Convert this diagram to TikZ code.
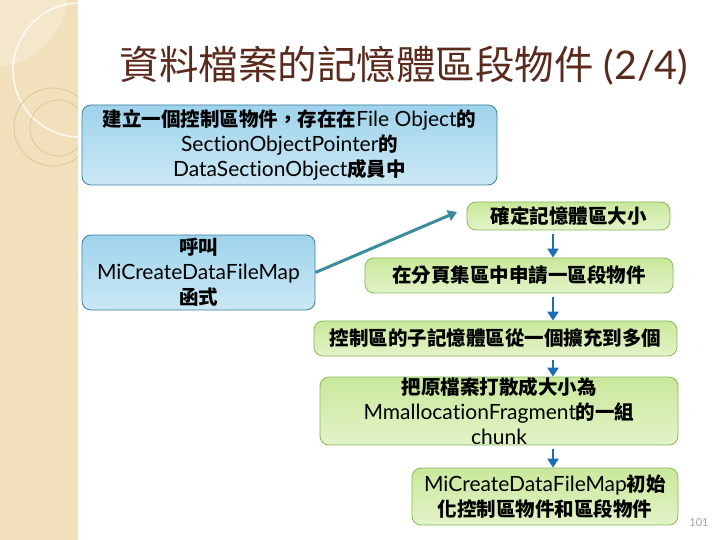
\documentclass[tikz,border=0pt]{standalone}
\usepackage{fontspec}
\setmainfont{Lato}[Ligatures={NoCommon}]
\newfontfamily\cjk{Noto Sans CJK TC}
\usetikzlibrary{arrows.meta,shadings}
\definecolor{strip}{HTML}{F2E0BC}
\definecolor{stripline}{HTML}{DCC69A}
\definecolor{titlec}{HTML}{5A2A1C}
\definecolor{blueborder}{HTML}{3F7F9E}
\definecolor{bluetop}{HTML}{9FD3EC}
\definecolor{bluebot}{HTML}{CBE8F5}
\definecolor{greenborder}{HTML}{8AB85A}
\definecolor{greentop}{HTML}{C9E89B}
\definecolor{greenbot}{HTML}{E3F3C8}
\definecolor{arrowblue}{HTML}{1C6DB5}
\definecolor{teal}{HTML}{3A8C9E}
\newcommand\zb[1]{{\cjk\bfseries\fontsize{19.5}{25}\selectfont #1}}
\newcommand\zr[1]{{\cjk #1}}
\tikzset{
  boxbase/.style={rounded corners=9pt, align=center, inner sep=0pt,
    font=\fontsize{21}{25}\selectfont, text=black, line width=0.8pt},
  bluebox/.style={boxbase, draw=blueborder, top color=bluetop, bottom color=bluebot},
  greenbox/.style={boxbase, draw=greenborder, top color=greentop, bottom color=greenbot},
  downarrow/.style={draw=arrowblue, line width=2.6pt, shorten <=4pt, -{Triangle[width=11pt,length=9pt]}},
  tealarrow/.style={draw=teal, line width=3pt, -{Triangle[width=11pt,length=9pt]}}
}
\begin{document}
\begin{tikzpicture}[x=1pt,y=-1pt]
\useasboundingbox (0,0) rectangle (720,540);
\fill[white] (0,0) rectangle (720,540);
% left strip
\fill[strip] (0,0) rectangle (78,540);
\begin{scope}
\clip (0,0) rectangle (78,540);
\fill[white,opacity=0.25] (-10,-10) circle (78);
\draw[white,opacity=0.8,line width=1.6pt] (80,70) circle (67);
\draw[stripline,line width=0.8pt] (53,127) circle (39);
\draw[stripline,line width=0.8pt] (58,128) circle (28);
\end{scope}
% title
\node[anchor=center, text=titlec, font=\fontsize{39.5}{42}\selectfont] (title) at (404,66)
  {\zr{資料檔案的記憶體區段物件} (2/4)};
% blue boxes
\node[bluebox, minimum width=415, minimum height=80] (b1) at (289.5,145)
  {\zb{建立一個控制區物件，存在在}File Object\zb{的}\\SectionObjectPointer\zb{的}\\DataSectionObject\zb{成員中}};
\node[bluebox, minimum width=233, minimum height=75] (b2) at (198.5,272.5)
  {\zb{呼叫}\\MiCreateDataFileMap\\\zb{函式}};
% green boxes
\node[greenbox, minimum width=203, minimum height=28] (g1) at (568.5,216) {\zb{確定記憶體區大小}};
\node[greenbox, minimum width=308, minimum height=35] (g2) at (519,275.5) {\zb{在分頁集區中申請一區段物件}};
\node[greenbox, minimum width=363, minimum height=35] (g3) at (495.5,338.5) {\zb{控制區的子記憶體區從一個擴充到多個}};
\node[greenbox, minimum width=358, minimum height=68] (g4) at (499,411)
  {\zb{把原檔案打散成大小為}\\MmallocationFragment\zb{的一組}\\chunk};
\node[greenbox, minimum width=266, minimum height=57] (g5) at (545,496.5)
  {MiCreateDataFileMap\zb{初始}\\\zb{化控制區物件和區段物件}};
% page number
\node[text=gray!70, font=\fontsize{11}{12}\selectfont] (pg) at (699,523) {101};
% connectors
\coordinate (ax) at (553,0);
\coordinate (tip) at (457,212);
\draw[tealarrow] (b2.east) -- (tip);
\draw[downarrow] (g1.south -| ax) -- (g2.north -| ax);
\draw[downarrow] (g2.south -| ax) -- (g3.north -| ax);
\draw[downarrow] (g3.south -| ax) -- (g4.north -| ax);
\draw[downarrow] (g4.south -| ax) -- (g5.north -| ax);
\end{tikzpicture}
\end{document}
